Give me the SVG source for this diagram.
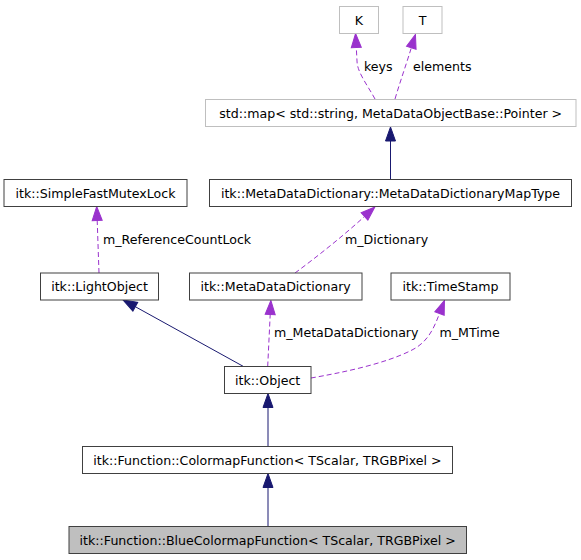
<svg xmlns="http://www.w3.org/2000/svg" width="581" height="560" viewBox="0 0 581 560">
<style>
  .box { fill: #ffffff; stroke: #404040; stroke-width: 1; }
  .ext { fill: #ffffff; stroke: #bfbfbf; stroke-width: 1; }
  .cur { fill: #bfbfbf; stroke: #404040; stroke-width: 1; }
  .lbl { font-family: "DejaVu Sans", "Liberation Sans", sans-serif; font-size: 12.6px; fill: #000000; }
  .ctr { text-anchor: middle; }
  .inh { fill: none; stroke: #191970; stroke-width: 1; marker-end: url(#navy); }
  .use { fill: none; stroke: #9a32cd; stroke-width: 1; stroke-dasharray: 5,3; marker-end: url(#purple); }
</style>
<defs>
  <marker id="navy" markerUnits="userSpaceOnUse" markerWidth="14" markerHeight="10" refX="0" refY="5" orient="auto" overflow="visible">
    <path d="M0,0 L14,5 L0,10 z" fill="#191970" stroke="#191970" stroke-width="1"/>
  </marker>
  <marker id="purple" markerUnits="userSpaceOnUse" markerWidth="14" markerHeight="10" refX="0" refY="5" orient="auto" overflow="visible">
    <path d="M0,0 L14,5 L0,10 z" fill="#9a32cd" stroke="#9a32cd" stroke-width="1"/>
  </marker>
</defs>
<rect width="581" height="560" fill="#ffffff"/>

<g id="connectors">
  <path class="inh" d="M390.5,179.5 L390.5,141"/>
  <path class="use" d="M375,99 C368,86 357,72 357,61 L356.3,47.5"/>
  <path class="use" d="M395,99 C400,82 406,65 410,52 L411.3,47.8"/>
  <path class="use" d="M295,273 C318,256 343,236 364.5,216.5"/>
  <path class="use" d="M99,273 L97.2,220.5"/>
  <path class="inh" d="M243.5,366.5 L135.3,306.7"/>
  <path class="use" d="M267.7,366.5 L270.2,314.5"/>
  <path class="use" d="M311,378 C340,373 385,364 412,350 C428,342 434,328 439.5,313.5"/>
  <path class="inh" d="M268,446.5 L268,407.5"/>
  <path class="inh" d="M268,526.5 L268,487.5"/>
  <text class="lbl" x="364" y="71">keys</text>
  <text class="lbl" x="413" y="71">elements</text>
  <text class="lbl" x="103" y="244">m_ReferenceCountLock</text>
  <text class="lbl" x="345" y="244">m_Dictionary</text>
  <text class="lbl" x="274" y="337">m_MetaDataDictionary</text>
  <text class="lbl" x="439.5" y="337">m_MTime</text>
</g>

<g id="node-K">
  <rect class="ext" x="339.5" y="6.5" width="39" height="27"/>
  <text class="lbl ctr" x="359" y="24.5">K</text>
</g>
<g id="node-T">
  <rect class="ext" x="403" y="6.5" width="39" height="27"/>
  <text class="lbl ctr" x="422.5" y="24.5">T</text>
</g>
<g id="node-stdmap">
  <rect class="ext" x="205.5" y="99.5" width="370.5" height="27"/>
  <text class="lbl ctr" x="390.7" y="117.5">std::map&lt; std::string, MetaDataObjectBase::Pointer &gt;</text>
</g>
<g id="node-MapType">
  <rect class="box" x="209.5" y="179.5" width="362" height="27"/>
  <text class="lbl ctr" x="390.5" y="197.5">itk::MetaDataDictionary::MetaDataDictionaryMapType</text>
</g>
<g id="node-SimpleFastMutexLock">
  <rect class="box" x="4" y="179.5" width="183" height="27"/>
  <text class="lbl ctr" x="95.5" y="197.5">itk::SimpleFastMutexLock</text>
</g>
<g id="node-LightObject">
  <rect class="box" x="40.5" y="273" width="118" height="27"/>
  <text class="lbl ctr" x="99.5" y="291">itk::LightObject</text>
</g>
<g id="node-MetaDataDictionary">
  <rect class="box" x="189.5" y="273" width="172.5" height="27"/>
  <text class="lbl ctr" x="275.7" y="291">itk::MetaDataDictionary</text>
</g>
<g id="node-TimeStamp">
  <rect class="box" x="391" y="273" width="119" height="27"/>
  <text class="lbl ctr" x="450.5" y="291">itk::TimeStamp</text>
</g>
<g id="node-Object">
  <rect class="box" x="224.5" y="366.5" width="86.5" height="27"/>
  <text class="lbl ctr" x="267.7" y="384.5">itk::Object</text>
</g>
<g id="node-ColormapFunction">
  <rect class="box" x="82.5" y="446.5" width="370" height="27"/>
  <text class="lbl ctr" x="267.5" y="464.5">itk::Function::ColormapFunction&lt; TScalar, TRGBPixel &gt;</text>
</g>
<g id="node-BlueColormapFunction">
  <rect class="cur" x="69" y="526.5" width="397.5" height="27"/>
  <text class="lbl ctr" x="267.7" y="544.5">itk::Function::BlueColormapFunction&lt; TScalar, TRGBPixel &gt;</text>
</g>
</svg>
